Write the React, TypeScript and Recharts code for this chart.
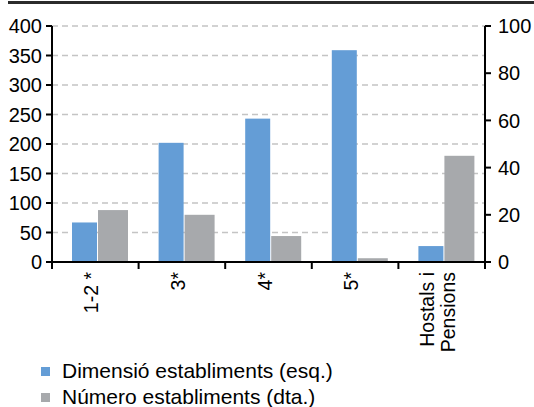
import React from 'react';
import { BarChart, Bar, XAxis, YAxis, CartesianGrid, Legend } from 'recharts';

const categories = ['1-2 *', '3*', '4*', '5*', 'Hostals i\nPensions'];
const dimensio = [67, 202, 243, 359, 27];
const numero = [22, 20, 11, 1.6, 45];
const leftTicks = [0, 50, 100, 150, 200, 250, 300, 350, 400];
const rightTicks = [0, 20, 40, 60, 80, 100];
const seriesNames = ['Dimensió establiments (esq.)', 'Número establiments (dta.)'];

const COLORS = ['#649DD6', '#A7A9AC'];
const FONT = '"Liberation Sans", Arial, Helvetica, sans-serif';

const W = 534;
const H = 407;
const LEFT_W = 52;
const RIGHT_W = 49;
const PLOT_W = W - LEFT_W - RIGHT_W;
const BAND = PLOT_W / categories.length;

const data = categories.map((c, i) => ({ cat: c, dim: dimensio[i], num: numero[i] }));

const XTick = (props: any) => {
  const { x, y, payload, index } = props;
  const lines = String(payload.value).split('\n');
  const n = lines.length;
  const ty = y + 10;
  return (
    <g>
      <line x1={x - BAND / 2} x2={x - BAND / 2} y1={y} y2={y + 7} stroke="#000" strokeWidth={2} />
      {index === categories.length - 1 && (
        <line x1={x + BAND / 2} x2={x + BAND / 2} y1={y} y2={y + 7} stroke="#000" strokeWidth={2} />
      )}
      {lines.map((l, k) => {
        const cx = x - 4 + (k - (n - 1) / 2) * 21;
        return (
          <text
            key={k}
            x={cx}
            y={ty}
            transform={`rotate(-90 ${cx} ${ty})`}
            textAnchor="end"
            dominantBaseline="central"
            fill="#000"
            fontSize={19.5}
            fontFamily={FONT}
          >
            {l}
          </text>
        );
      })}
    </g>
  );
};

const shifted = (fill: string) => (p: any) => (
  <rect x={p.x + 5} y={p.y} width={p.width} height={p.height} fill={fill} />
);

const LegendContent = () => (
  <div
    style={{
      height: 56,
      paddingTop: 7,
      boxSizing: 'border-box',
      fontFamily: FONT,
      fontSize: 21,
      lineHeight: '24px',
      color: '#000',
    }}
  >
    {seriesNames.map((name, i) => (
      <div key={name} style={{ height: 26, display: 'flex', alignItems: 'center', whiteSpace: 'nowrap' }}>
        <span
          style={{ display: 'inline-block', width: 9, height: 9, background: COLORS[i], marginLeft: 41, marginRight: 12 }}
        />
        <span>{name}</span>
      </div>
    ))}
  </div>
);

export default function App() {
  return (
    <div style={{ position: 'absolute', left: 0, top: 0, width: W, height: H, background: '#fff' }}>
      <div style={{ position: 'absolute', left: 8, top: 1, width: W - 8, height: 3, background: '#2b2b2b' }} />
      <BarChart
        width={W}
        height={H}
        data={data}
        margin={{ top: 26, right: 0, bottom: 0, left: 0 }}
        barGap={1}
      >
        <CartesianGrid
          yAxisId="left"
          vertical={false}
          strokeDasharray="6 4"
          stroke="#C4C4C4"
          strokeWidth={1.5}
        />
        <XAxis
          dataKey="cat"
          height={89}
          interval={0}
          tick={<XTick />}
          tickLine={false}
          tickSize={0}
          tickMargin={0}
          axisLine={{ stroke: '#000', strokeWidth: 2 }}
        />
        <YAxis
          yAxisId="left"
          orientation="left"
          width={LEFT_W}
          domain={[0, 400]}
          ticks={leftTicks}
          interval={0}
          axisLine={{ stroke: '#000', strokeWidth: 2 }}
          tickLine={{ stroke: '#000', strokeWidth: 2 }}
          tickSize={6}
          tickMargin={4}
          tick={{ fill: '#000', fontSize: 20, fontFamily: FONT }}
        />
        <YAxis
          yAxisId="right"
          orientation="right"
          width={RIGHT_W}
          domain={[0, 100]}
          ticks={rightTicks}
          interval={0}
          axisLine={{ stroke: '#000', strokeWidth: 2 }}
          tickLine={{ stroke: '#000', strokeWidth: 2 }}
          tickSize={6}
          tickMargin={7}
          tick={{ fill: '#000', fontSize: 20, fontFamily: FONT }}
        />
        <Legend verticalAlign="bottom" align="left" content={<LegendContent />} />
        <Bar
          yAxisId="left"
          dataKey="dim"
          name={seriesNames[0]}
          fill={COLORS[0]}
          barSize={25}
          shape={shifted(COLORS[0])}
          isAnimationActive={false}
        />
        <Bar
          yAxisId="right"
          dataKey="num"
          name={seriesNames[1]}
          fill={COLORS[1]}
          barSize={30}
          shape={shifted(COLORS[1])}
          isAnimationActive={false}
        />
      </BarChart>
    </div>
  );
}
